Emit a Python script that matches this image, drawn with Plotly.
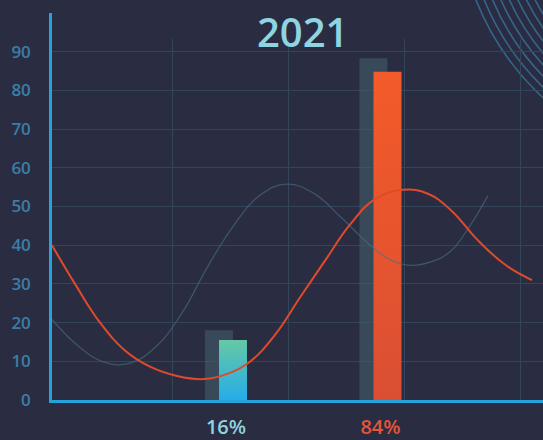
import plotly.graph_objects as go

# ---- data ----
categories = ["16%", "84%"]
cat_pos = [0, 1]
bar_values = [15.5, 84.8]          # coloured bars
back_values = [18, 88.3]           # grey background bars
label_colors = ["#8fd3e0", "#e5553a"]
bar_tops = ["#66c8a4", "#f35b29"]
bar_bottoms = ["#25ade9", "#da4f33"]

red_x = [-0.038, 0.160, 0.376, 0.591, 0.807, 1.040, 1.272, 1.479, 1.669, 1.884,
         2.100, 2.316, 2.531, 2.747, 2.988, 3.203, 3.410, 3.626, 3.867, 4.100]
red_y = [40, 30, 20, 12.8, 8.6, 6.2, 5.4, 6.8, 9.9, 16.8,
         26.5, 36, 45.3, 51.9, 54.3, 53.3, 48.8, 41.5, 35, 31]
gray_x = [-0.038, 0.186, 0.410, 0.634, 0.859, 1.083, 1.307, 1.531, 1.755, 1.988,
          2.229, 2.453, 2.720, 2.893, 3.048, 3.220, 3.393, 3.565, 3.720]
gray_y = [20.8, 14, 9.8, 9.5, 13.8, 22.5, 34.6, 45.2, 52.9, 55.8,
          53.2, 47.2, 39.6, 36, 34.8, 35.6, 38.3, 45, 52.8]

y_ticks = [0, 10, 20, 30, 40, 50, 60, 70, 80, 90]
title_text = "2021"

BG = "#2a2d41"
GRID = "#33455a"
AXIS = "#26a2dc"
FONT = "Open Sans"

bar_w = 0.181
back_off = -0.136
front_off = -0.045

fig = go.Figure()

fig.add_trace(go.Bar(
    x=cat_pos, y=back_values, width=bar_w, offset=back_off,
    marker=dict(color="rgba(67,93,107,0.6)", line=dict(width=0)),
    hoverinfo="skip", showlegend=False,
))

for c, v, top, bot in zip(cat_pos, bar_values, bar_tops, bar_bottoms):
    x0 = c + front_off
    x1 = x0 + bar_w
    fig.add_trace(go.Scatter(
        x=[x0, x0, x1, x1, x0], y=[0, v, v, 0, 0],
        mode="lines", line=dict(width=0), fill="toself",
        fillgradient=dict(type="vertical", colorscale=[[0, bot], [1, top]]),
        hoverinfo="skip", showlegend=False,
    ))

fig.add_trace(go.Scatter(
    x=gray_x, y=gray_y, xaxis="x2", yaxis="y2", mode="lines",
    line=dict(color="rgba(72,112,132,0.6)", width=1.3, shape="spline", smoothing=1.2),
    hoverinfo="skip", showlegend=False,
))
fig.add_trace(go.Scatter(
    x=red_x, y=red_y, xaxis="x2", yaxis="y2", mode="lines",
    line=dict(color="#e04a2c", width=2, shape="spline", smoothing=1.2),
    hoverinfo="skip", showlegend=False,
))

ticktext = [f'<span style="color:{col}">{t}</span>' for t, col in zip(categories, label_colors)]

# decorative concentric arcs (top-right)
shapes = []
cx, cy = (725 - 52) / 491, (400 + 99) / 387
for i in range(8):
    r = 268 - i * 7.7
    shapes.append(dict(
        type="circle", xref="paper", yref="paper", layer="below",
        x0=cx - r / 491, x1=cx + r / 491, y0=cy - r / 387, y1=cy + r / 387,
        line=dict(color="#36658a", width=1.6),
    ))

fig.update_layout(
    width=543, height=440,
    margin=dict(l=52, r=0, t=13, b=40),
    paper_bgcolor=BG, plot_bgcolor="rgba(0,0,0,0)",
    barmode="overlay",
    shapes=shapes,
    xaxis=dict(
        range=[-1.126, 2.052], domain=[0, 1], tickvals=cat_pos, ticktext=ticktext,
        showgrid=False, zeroline=False, showline=True, linecolor=AXIS, linewidth=2.5,
        ticks="", ticklabelstandoff=7, automargin=False,
        tickfont=dict(family=FONT, size=20, weight=600),
        fixedrange=True,
    ),
    yaxis=dict(
        range=[0, 100], domain=[0, 1], tickvals=y_ticks,
        showgrid=True, gridcolor=GRID, gridwidth=1, zeroline=False,
        showline=True, linecolor=AXIS, linewidth=2.5, ticks="",
        ticklabelstandoff=15, automargin=False,
        tickfont=dict(family=FONT, size=17, color="#3c7ea7", weight=600),
    ),
    xaxis2=dict(
        range=[-0.038, 4.195], domain=[0, 1], anchor="y2", tickvals=[1, 2, 3, 4],
        showgrid=True, gridcolor=GRID, gridwidth=1, showticklabels=False,
        zeroline=False, showline=False, ticks="",
    ),
    yaxis2=dict(
        range=[0, 93.3], domain=[0, 0.933], anchor="x2",
        showgrid=False, zeroline=False, showline=False, showticklabels=False, ticks="",
    ),
    annotations=[dict(
        text=title_text, xref="paper", yref="paper", x=(302.5 - 52) / 491, y=(400 - 31.5) / 387,
        xanchor="center", yanchor="middle", showarrow=False,
        font=dict(family=FONT, size=40, color="#8ed4e2", weight=600),
    )],
)

fig.write_html(
    "out.html",
    config={"displayModeBar": False},
    post_script="document.body.style.margin='0';document.body.style.background='%s';" % BG,
)
